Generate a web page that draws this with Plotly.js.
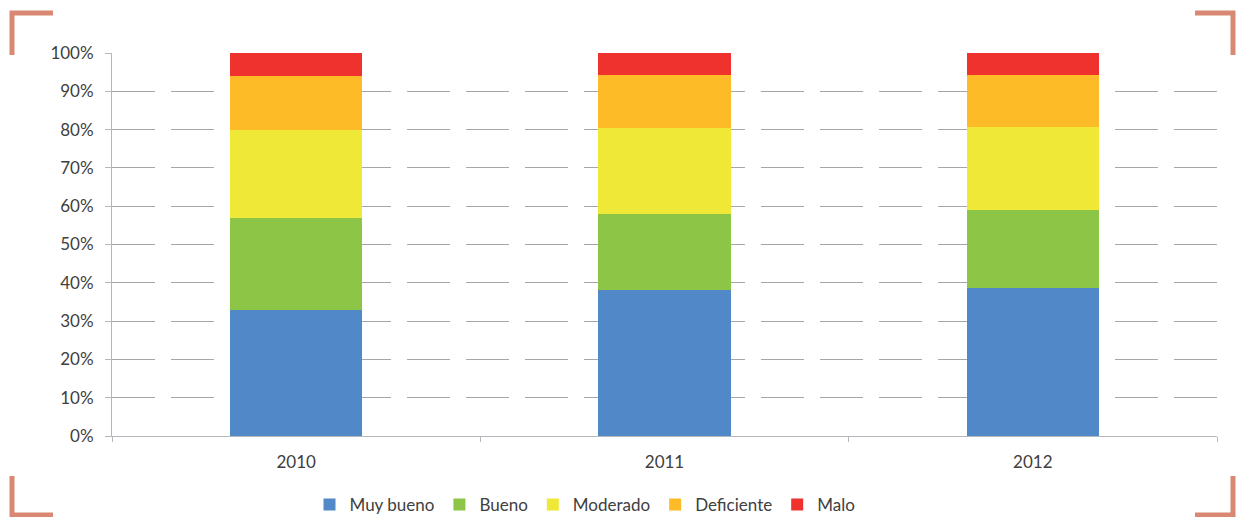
<!DOCTYPE html>
<html>
<head>
<meta charset="utf-8">
<script src="https://cdn.plot.ly/plotly-3.0.1.min.js"></script>
<style>html,body{margin:0;padding:0;background:#fff;}#chart{width:1236px;height:517px;}</style>
</head>
<body>
<div id="chart"></div>
<script>
const years = ['2010', '2011', '2012'];
const seriesNames = ['Muy bueno', 'Bueno', 'Moderado', 'Deficiente', 'Malo'];
const muyBueno = [33, 38, 38.7];
const bueno = [24, 20, 20.2];
const moderado = [23, 22.4, 21.8];
const deficiente = [14, 13.8, 13.5];
const malo = [6, 5.8, 5.8];
const colors = ['#5189c8', '#8dc646', '#efe837', '#fdbb28', '#ef322e'];
const yTickVals = [0, 10, 20, 30, 40, 50, 60, 70, 80, 90, 100];
const yTickText = ['0%', '10%', '20%', '30%', '40%', '50%', '60%', '70%', '80%', '90%', '100%'];

const allSeries = [muyBueno, bueno, moderado, deficiente, malo];
const traces = allSeries.map((vals, i) => ({
  type: 'bar',
  name: seriesNames[i],
  x: years,
  y: vals,
  marker: {color: colors[i], line: {width: 0}},
  hoverinfo: 'skip'
}));

// plot area in pixels: left 112, right 1217, top 53, bottom 436
const L = 112, R = 1217, T = 53, B = 436;
const px = x => (x - L) / (R - L);
const py = y => (B - y) / (B - T);
const bracketColor = '#d98873';
function bracket(pts) {
  return {
    type: 'path', xref: 'paper', yref: 'paper',
    path: pts.map((p, i) => (i ? 'L' : 'M') + px(p[0]) + ',' + py(p[1])).join(' '),
    line: {color: bracketColor, width: 5}
  };
}
const shapes = [
  bracket([[12, 55], [12, 13], [53, 13]]),
  bracket([[1195, 13], [1233, 13], [1233, 55]]),
  bracket([[12, 476], [12, 515], [53, 515]]),
  bracket([[1233, 476], [1233, 515], [1195, 515]])
];

const layout = {
  width: 1236, height: 517,
  margin: {l: L, r: 1236 - R, t: T, b: 517 - B, pad: 0, autoexpand: false},
  paper_bgcolor: '#ffffff', plot_bgcolor: '#ffffff',
  barmode: 'stack',
  bargap: 0.64,
  font: {family: 'Lato, sans-serif', size: 17, color: '#404040'},
  showlegend: true,
  legend: {
    orientation: 'h', xref: 'container', yref: 'container',
    x: 585 / 1236, xanchor: 'center', y: (517 - 505) / 517, yanchor: 'middle',
    font: {size: 17, color: '#404040'}, traceorder: 'normal',
    itemwidth: 30, tracegroupgap: 0, itemclick: false
  },
  xaxis: {
    type: 'category',
    showgrid: false, zeroline: false,
    showline: true, linecolor: '#b4b8bd', linewidth: 1,
    ticks: 'outside', tickson: 'boundaries', ticklen: 5, tickcolor: '#b4b8bd',
    ticklabelstandoff: 11,
    tickfont: {size: 17, color: '#404040'},
    automargin: false,
    fixedrange: true
  },
  yaxis: {
    range: [0, 100], tickmode: 'array', tickvals: yTickVals, ticktext: yTickText,
    showgrid: true, gridcolor: '#a6a6a6', gridwidth: 1, griddash: '43px,16px',
    zeroline: false,
    showline: true, linecolor: '#b4b8bd', linewidth: 1,
    ticks: 'outside', ticklen: 6, tickcolor: '#b4b8bd',
    ticklabelstandoff: 8,
    tickfont: {size: 17, color: '#404040'},
    automargin: false,
    fixedrange: true
  },
  shapes: shapes
};

Plotly.newPlot('chart', traces, layout, {displayModeBar: false, staticPlot: true});
</script>
</body>
</html>
